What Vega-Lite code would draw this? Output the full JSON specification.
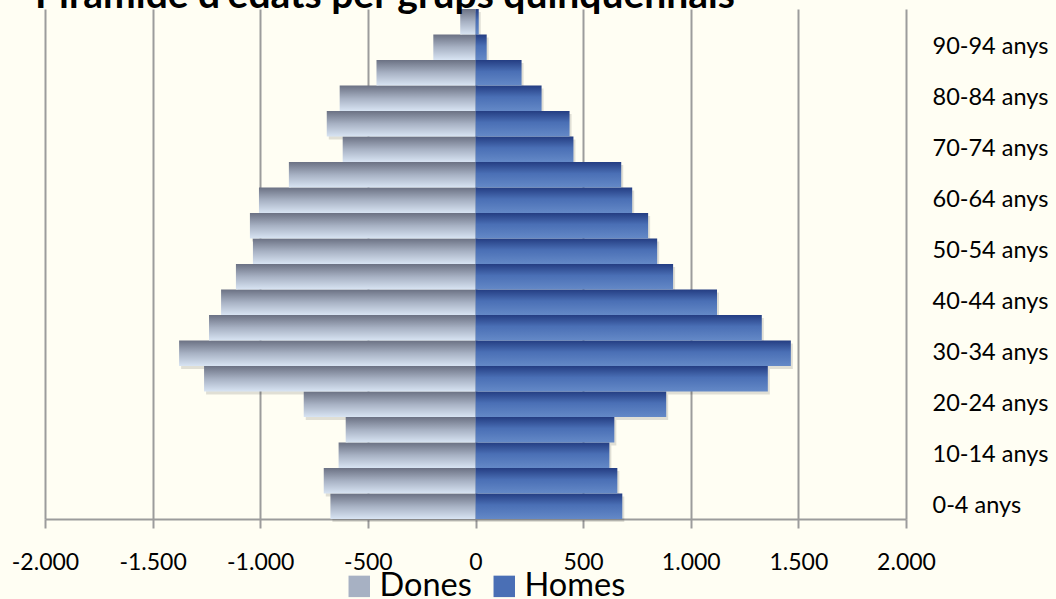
{
  "$schema": "https://vega.github.io/schema/vega-lite/v6.json",
  "autosize": {"type": "none"},
  "width": 861,
  "height": 510,
  "padding": {"left": 45, "top": 9, "right": 150, "bottom": 80},
  "background": "#fffef3",
  "config": {"view": {"stroke": null}, "font": "Lato"},
  "title": {
    "text": "Piràmide d'edats per grups quinquennals",
    "anchor": "start",
    "frame": "group",
    "font": "Lato",
    "fontSize": 39,
    "fontWeight": "bold",
    "color": "#000000",
    "offset": -7,
    "dx": -10
  },
  "data": {
    "values": [
      {"edat": "0-4 anys", "sexe": "Dones", "valor": -674},
      {"edat": "5-9 anys", "sexe": "Dones", "valor": -705},
      {"edat": "10-14 anys", "sexe": "Dones", "valor": -636},
      {"edat": "15-19 anys", "sexe": "Dones", "valor": -603},
      {"edat": "20-24 anys", "sexe": "Dones", "valor": -798},
      {"edat": "25-29 anys", "sexe": "Dones", "valor": -1261},
      {"edat": "30-34 anys", "sexe": "Dones", "valor": -1377},
      {"edat": "35-39 anys", "sexe": "Dones", "valor": -1238},
      {"edat": "40-44 anys", "sexe": "Dones", "valor": -1182},
      {"edat": "45-49 anys", "sexe": "Dones", "valor": -1113},
      {"edat": "50-54 anys", "sexe": "Dones", "valor": -1034},
      {"edat": "55-59 anys", "sexe": "Dones", "valor": -1048},
      {"edat": "60-64 anys", "sexe": "Dones", "valor": -1006},
      {"edat": "65-69 anys", "sexe": "Dones", "valor": -867},
      {"edat": "70-74 anys", "sexe": "Dones", "valor": -617},
      {"edat": "75-79 anys", "sexe": "Dones", "valor": -691},
      {"edat": "80-84 anys", "sexe": "Dones", "valor": -631},
      {"edat": "85-89 anys", "sexe": "Dones", "valor": -460},
      {"edat": "90-94 anys", "sexe": "Dones", "valor": -196},
      {"edat": "95-99 anys", "sexe": "Dones", "valor": -71},
      {"edat": "0-4 anys", "sexe": "Homes", "valor": 682},
      {"edat": "5-9 anys", "sexe": "Homes", "valor": 659},
      {"edat": "10-14 anys", "sexe": "Homes", "valor": 622},
      {"edat": "15-19 anys", "sexe": "Homes", "valor": 645},
      {"edat": "20-24 anys", "sexe": "Homes", "valor": 886},
      {"edat": "25-29 anys", "sexe": "Homes", "valor": 1358},
      {"edat": "30-34 anys", "sexe": "Homes", "valor": 1465},
      {"edat": "35-39 anys", "sexe": "Homes", "valor": 1330},
      {"edat": "40-44 anys", "sexe": "Homes", "valor": 1122},
      {"edat": "45-49 anys", "sexe": "Homes", "valor": 918},
      {"edat": "50-54 anys", "sexe": "Homes", "valor": 844},
      {"edat": "55-59 anys", "sexe": "Homes", "valor": 802},
      {"edat": "60-64 anys", "sexe": "Homes", "valor": 728},
      {"edat": "65-69 anys", "sexe": "Homes", "valor": 677},
      {"edat": "70-74 anys", "sexe": "Homes", "valor": 455},
      {"edat": "75-79 anys", "sexe": "Homes", "valor": 437},
      {"edat": "80-84 anys", "sexe": "Homes", "valor": 307},
      {"edat": "85-89 anys", "sexe": "Homes", "valor": 214},
      {"edat": "90-94 anys", "sexe": "Homes", "valor": 52},
      {"edat": "95-99 anys", "sexe": "Homes", "valor": 15}
    ]
  },
  "encoding": {
    "y": {
      "field": "edat",
      "type": "nominal",
      "sort": ["95-99 anys", "90-94 anys", "85-89 anys", "80-84 anys", "75-79 anys", "70-74 anys", "65-69 anys", "60-64 anys", "55-59 anys", "50-54 anys", "45-49 anys", "40-44 anys", "35-39 anys", "30-34 anys", "25-29 anys", "20-24 anys", "15-19 anys", "10-14 anys", "5-9 anys", "0-4 anys"],
      "scale": {"paddingInner": 0, "paddingOuter": 0},
      "axis": {
        "orient": "right",
        "title": null,
        "values": ["0-4 anys", "10-14 anys", "20-24 anys", "30-34 anys", "40-44 anys", "50-54 anys", "60-64 anys", "70-74 anys", "80-84 anys", "90-94 anys"],
        "domain": false,
        "ticks": false,
        "grid": false,
        "labelPadding": 26,
        "labelAlign": "left",
        "labelFont": "Lato",
        "labelFontSize": 23.5,
        "labelColor": "#000000"
      }
    },
    "x": {
      "field": "valor",
      "type": "quantitative",
      "scale": {"domain": [-2000, 2000], "nice": false, "zero": false},
      "axis": {
        "title": null,
        "values": [-2000, -1500, -1000, -500, 0, 500, 1000, 1500, 2000],
        "labelExpr": "(datum.value < 0 ? '-' : '') + replace(format(abs(datum.value), ','), ',', '.')",
        "grid": true,
        "gridColor": "#9c9c9c",
        "gridWidth": 2,
        "domainColor": "#9c9c9c",
        "domainWidth": 2,
        "tickColor": "#9c9c9c",
        "tickWidth": 2,
        "tickSize": 9,
        "labelPadding": 23,
        "labelFont": "Lato",
        "labelFontSize": 23,
        "labelColor": "#000000",
        "labelFlush": false
      }
    }
  },
  "layer": [
    {
      "mark": {"type": "bar", "yOffset": 3, "xOffset": 2, "color": "#000000", "opacity": 0.12}
    },
    {
      "mark": {"type": "bar"},
      "encoding": {
        "fill": {
          "condition": {
            "test": "datum.sexe === 'Dones'",
            "value": {"gradient": "linear", "x1": 0, "y1": 0, "x2": 0, "y2": 1, "stops": [{"offset": 0, "color": "#6b7183"}, {"offset": 0.5, "color": "#a7b1c3"}, {"offset": 1, "color": "#d8e4f3"}]}
          },
          "value": {"gradient": "linear", "x1": 0, "y1": 0, "x2": 0, "y2": 1, "stops": [{"offset": 0, "color": "#243d82"}, {"offset": 0.45, "color": "#4a6fb5"}, {"offset": 1, "color": "#6489c7"}]}
        }
      }
    },
    {
      "mark": {"type": "square", "size": 0, "filled": true, "opacity": 1},
      "encoding": {
        "color": {
          "field": "sexe",
          "type": "nominal",
          "scale": {"domain": ["Dones", "Homes"], "range": ["#a7b1c3", "#4a6fb5"]},
          "legend": {
            "title": null,
            "orient": "none",
            "legendX": 298,
            "legendY": 561,
            "direction": "horizontal",
            "symbolType": "square",
            "symbolSize": 460,
            "symbolStrokeWidth": 0,
            "symbolOpacity": 1,
            "labelFont": "Lato",
            "labelFontSize": 32.5,
            "labelColor": "#000000",
            "labelOffset": 4,
            "columnPadding": 16,
            "encode": {
              "symbols": {
                "update": {
                  "fill": {"signal": "datum.label === 'Dones' ? {gradient: 'linear', x1: 0, y1: 0, x2: 0, y2: 1, stops: [{offset: 0, color: '#6b7183'}, {offset: 0.5, color: '#a7b1c3'}, {offset: 1, color: '#d8e4f3'}]} : {gradient: 'linear', x1: 0, y1: 0, x2: 0, y2: 1, stops: [{offset: 0, color: '#243d82'}, {offset: 0.45, color: '#4a6fb5'}, {offset: 1, color: '#6489c7'}]}"},
                  "opacity": {"value": 1}
                }
              }
            }
          }
        }
      }
    }
  ]
}
